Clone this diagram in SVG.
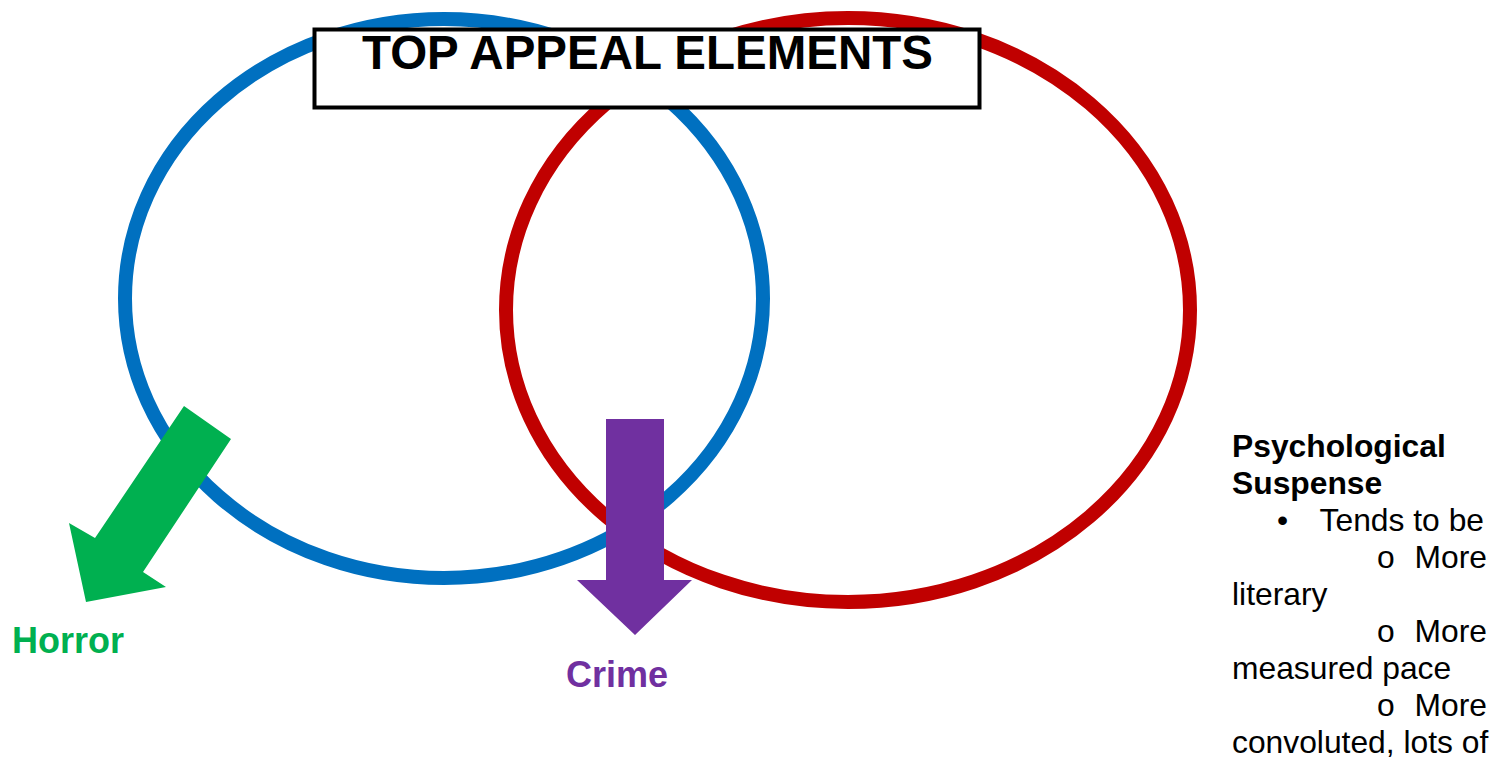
<svg xmlns="http://www.w3.org/2000/svg" width="1507" height="757" viewBox="0 0 1507 757">
  <style>
    .ring { fill: none; stroke-width: 14; }
    .lbl { font-family: "Liberation Sans", Arial, sans-serif; font-weight: bold; }
    .body { font-family: "Liberation Sans", Arial, sans-serif; font-size: 31.8px; fill: #000; }
  </style>
  <rect width="1507" height="757" fill="#fff"/>
  <g id="horror-circle">
    <ellipse class="ring" cx="444" cy="298.5" rx="319" ry="279.5" stroke="#0070C0"/>
  </g>
  <g id="crime-circle">
    <ellipse class="ring" cx="848" cy="310" rx="342" ry="292" stroke="#C00000"/>
  </g>
  <g id="title">
    <rect x="314.5" y="29.5" width="665" height="78" fill="#fff" stroke="#000" stroke-width="4"/>
    <text class="lbl" x="647.5" y="69" font-size="47.5" text-anchor="middle" fill="#000">TOP APPEAL ELEMENTS</text>
  </g>
  <g id="connectors">
    <polygon id="horror-arrow" points="184,406 231,439 143,572 166,587 86,602 69,523 95,538" fill="#00B050"/>
    <polygon id="crime-arrow" points="606,419 664,419 664,580 692,580 635,635 577,580 606,580" fill="#7030A0"/>
  </g>
  <g id="horror">
    <text class="lbl" x="12" y="653" font-size="36" fill="#00B050">Horror</text>
  </g>
  <g id="crime">
    <text class="lbl" x="617" y="687" font-size="36" text-anchor="middle" fill="#7030A0">Crime</text>
  </g>
  <g id="psych-text">
    <text class="body" x="1232" y="457" font-weight="bold">Psychological</text>
    <text class="body" x="1232" y="494" font-weight="bold">Suspense</text>
    <text class="body" x="1277" y="531">•</text>
    <text class="body" x="1484" y="531" text-anchor="end">Tends to be</text>
    <text class="body" x="1377" y="568">o</text>
    <text class="body" x="1487" y="568" text-anchor="end">More</text>
    <text class="body" x="1232" y="605">literary</text>
    <text class="body" x="1377" y="642">o</text>
    <text class="body" x="1487" y="642" text-anchor="end">More</text>
    <text class="body" x="1232" y="679">measured pace</text>
    <text class="body" x="1377" y="716">o</text>
    <text class="body" x="1487" y="716" text-anchor="end">More</text>
    <text class="body" x="1232" y="753">convoluted, lots of</text>
  </g>
</svg>
